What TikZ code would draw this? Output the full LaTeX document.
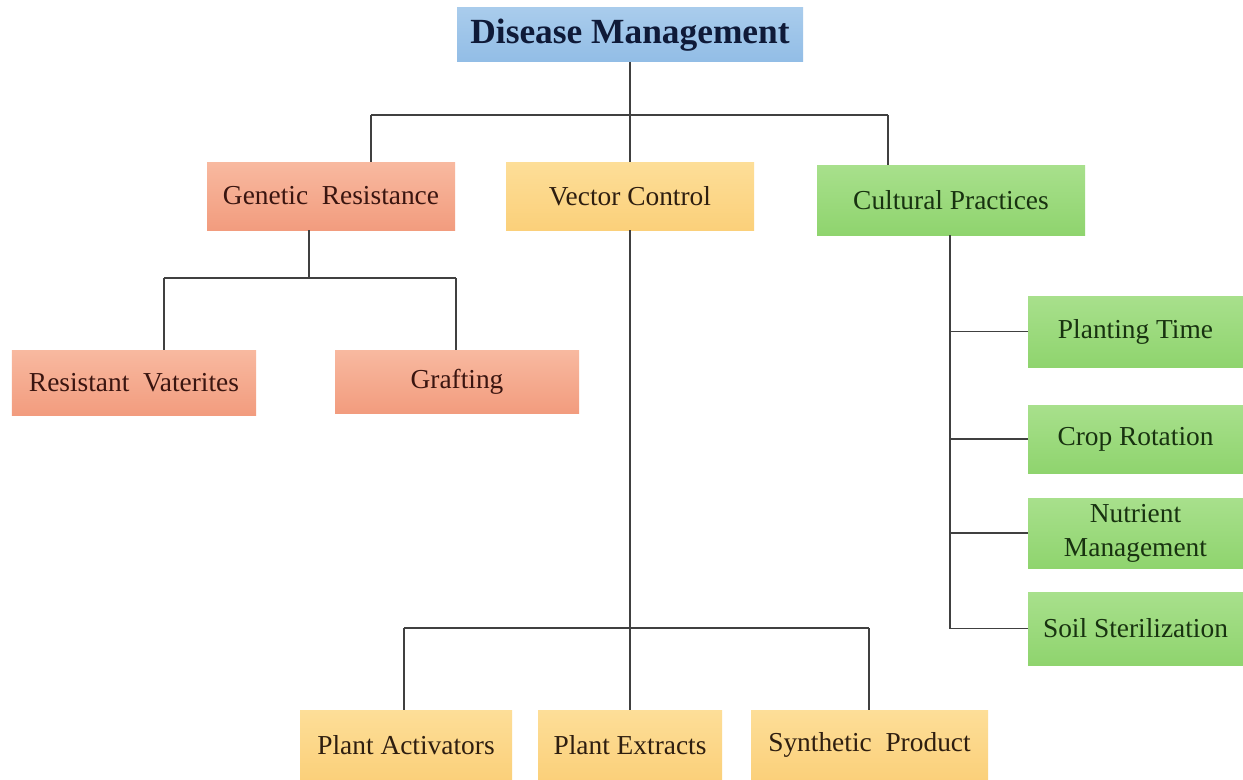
\documentclass[tikz,border=0pt]{standalone}
\usepackage{fontspec}
\setmainfont{Liberation Serif}
\begin{document}
\begin{tikzpicture}[x=1bp,y=1bp,
  box/.style={rectangle, inner sep=0pt, align=center, font=\fontsize{27.5}{34}\selectfont},
  redbox/.style={box, top color=salmonT, bottom color=salmonB, text=salmonText},
  yelbox/.style={box, top color=yelT, bottom color=yelB, text=yelText},
  grnbox/.style={box, top color=grnT, bottom color=grnB, text=grnText},
  conn/.style={draw=lineC, line width=1.4bp}]
\definecolor{salmonT}{HTML}{F8B9A0}
\definecolor{salmonB}{HTML}{F29C7E}
\definecolor{salmonText}{HTML}{3A1510}
\definecolor{yelT}{HTML}{FDDE98}
\definecolor{yelB}{HTML}{FBD07A}
\definecolor{yelText}{HTML}{2E1E10}
\definecolor{grnT}{HTML}{A8E08C}
\definecolor{grnB}{HTML}{8FD46E}
\definecolor{grnText}{HTML}{183210}
\definecolor{blueT}{HTML}{A9CCEC}
\definecolor{blueB}{HTML}{92BDE6}
\definecolor{titleText}{HTML}{0F1A38}
\definecolor{lineC}{HTML}{404040}
\useasboundingbox (0,0) rectangle (1243,-780);
\fill[white] (0,0) rectangle (1243,-780);

% nodes
\node[box, top color=blueT, bottom color=blueB, text=titleText,
      font=\fontsize{35.5}{40}\selectfont\bfseries,
      minimum width=346bp, minimum height=54bp] (title) at (630,-35) {Disease Management};

\node[redbox, minimum width=248bp, minimum height=68bp] (gen) at (331,-196) {Genetic\ \ Resistance};
\node[yelbox, minimum width=248bp, minimum height=68bp] (vec) at (630,-196) {Vector Control};
\node[grnbox, minimum width=268bp, minimum height=70bp] (cul) at (951,-200) {Cultural Practices};

\node[redbox, minimum width=244bp, minimum height=65bp] (res) at (134,-382.5) {Resistant\ \ Vaterites};
\node[redbox, minimum width=244bp, minimum height=63bp] (gra) at (457,-381.5) {Grafting};

\node[grnbox, minimum width=215bp, minimum height=71bp] (pla) at (1135.5,-331.5) {Planting Time};
\node[grnbox, minimum width=215bp, minimum height=68bp] (cro) at (1135.5,-439) {Crop Rotation};
\node[grnbox, minimum width=215bp, minimum height=70bp] (nut) at (1135.5,-533) {Nutrient\\Management};
\node[grnbox, minimum width=215bp, minimum height=73bp] (soi) at (1135.5,-628.5) {Soil Sterilization};

\node[yelbox, minimum width=212bp, minimum height=70bp] (act) at (406,-745) {Plant Activators};
\node[yelbox, minimum width=184bp, minimum height=70bp] (ext) at (630,-745) {Plant Extracts};
\node[yelbox, minimum width=237bp, minimum height=70bp] (syn) at (869.5,-745) {Synthetic\ \ Product};

% coordinates for buses
\coordinate (bL) at (371,-115);
\coordinate (bR) at (888,-115);
\coordinate (gx) at (309,-278);
\coordinate (gL) at (164,-278);
\coordinate (gR) at (456,-278);
\coordinate (vL) at (404,-628);
\coordinate (vR) at (869,-628);
\coordinate (cx) at (950,-630);

% top level
\draw[conn] (title.south) -- (title.south |- bL);
\draw[conn] (bL) -- (bR);
\draw[conn] (bL) -- (bL |- gen.north);
\draw[conn] (title.south |- bL) -- (vec.north);
\draw[conn] (bR) -- (bR |- cul.north);

% genetic resistance
\draw[conn] (gen.south -| gx) -- (gx);
\draw[conn] (gL) -- (gR);
\draw[conn] (gL) -- (gL |- res.north);
\draw[conn] (gR) -- (gR |- gra.north);

% vector control
\draw[conn] (vec.south) -- (vec.south |- vL);
\draw[conn] (vL) -- (vR);
\draw[conn] (vL) -- (vL |- act.north);
\draw[conn] (vec.south |- vL) -- (ext.north);
\draw[conn] (vR) -- (vR |- syn.north);

% cultural practices
\draw[conn] (cul.south -| cx) -- (cx |- soi.west);
\draw[conn] (cx |- pla.west) -- (pla.west);
\draw[conn] (cx |- cro.west) -- (cro.west);
\draw[conn] (cx |- nut.west) -- (nut.west);
\draw[conn] (cx |- soi.west) -- (soi.west);
\end{tikzpicture}
\end{document}
